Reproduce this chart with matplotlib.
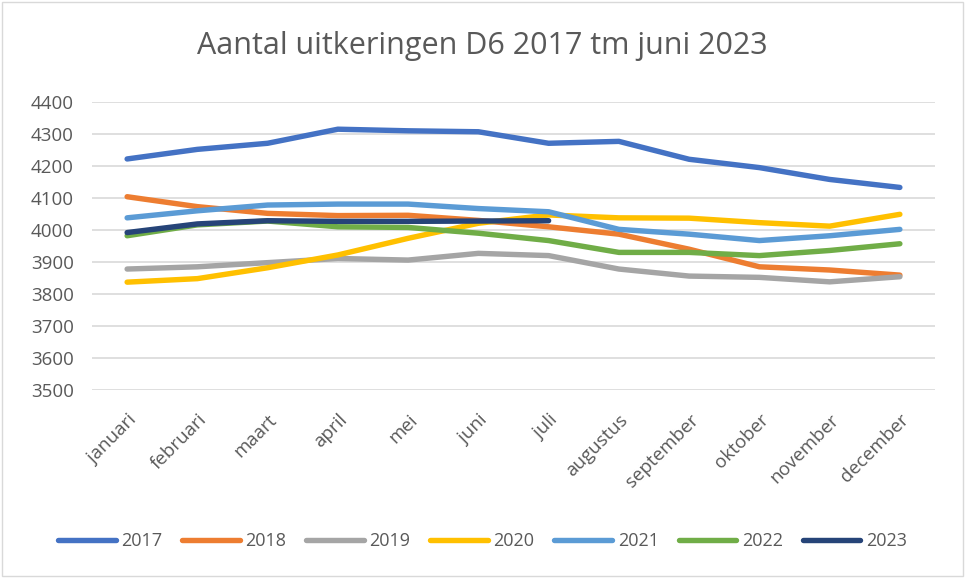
import matplotlib.pyplot as plt
from matplotlib.patches import Rectangle

# Maanden en jaarreeksen
maanden = ["januari", "februari", "maart", "april", "mei", "juni", "juli",
           "augustus", "september", "oktober", "november", "december"]

v2017 = [4222, 4252, 4271, 4315, 4310, 4307, 4271, 4277, 4221, 4195, 4158, 4133]
v2018 = [4104, 4073, 4052, 4045, 4046, 4030, 4010, 3987, 3940, 3885, 3875, 3859]
v2019 = [3878, 3885, 3898, 3911, 3906, 3927, 3920, 3878, 3856, 3852, 3838, 3854]
v2020 = [3837, 3848, 3882, 3922, 3974, 4021, 4047, 4038, 4037, 4023, 4012, 4049]
v2021 = [4038, 4060, 4078, 4081, 4081, 4067, 4057, 4002, 3987, 3967, 3982, 4002]
v2022 = [3982, 4016, 4028, 4010, 4008, 3990, 3967, 3930, 3930, 3920, 3936, 3957]
v2023 = [3992, 4019, 4029, 4027, 4027, 4028, 4029]

jaren = ["2017", "2018", "2019", "2020", "2021", "2022", "2023"]
reeksen = [v2017, v2018, v2019, v2020, v2021, v2022, v2023]
kleuren = ["#4472C4", "#ED7D31", "#A5A5A5", "#FFC000", "#5B9BD5", "#70AD47", "#264478"]

plt.rcParams['font.family'] = ['Open Sans', 'DejaVu Sans']

fig = plt.figure(figsize=(9.65, 5.78), dpi=100)
ax = fig.add_axes([92 / 965, 1 - 390 / 578, 843 / 965, 288 / 578])

for jaar, waarden, kleur in zip(jaren, reeksen, kleuren):
    ax.plot(range(len(waarden)), waarden, color=kleur, linewidth=3.9,
            solid_capstyle="round", solid_joinstyle="round", label=jaar)

ax.set_xlim(-0.5, 11.5)
ax.set_ylim(3500, 4400)
ax.set_yticks(range(3500, 4401, 100))
ax.set_xticks(range(len(maanden)))
ax.set_xticklabels(maanden, rotation=45, ha="right", rotation_mode="anchor")
ax.yaxis.grid(True, color="#D9D9D9", linewidth=1.2)
ax.set_axisbelow(True)
for s in ax.spines.values():
    s.set_visible(False)
ax.tick_params(axis="both", length=0, labelsize=13.5, labelcolor="#595959")
ax.tick_params(axis="y", pad=13)
ax.tick_params(axis="x", pad=15)

fig.text(482 / 965, 1 - 46 / 578, "Aantal uitkeringen D6 2017 tm juni 2023",
         ha="center", va="center", fontsize=22, color="#595959")

fig.legend(loc="center", bbox_to_anchor=(0.5, 1 - 541 / 578), ncol=7,
           frameon=False, fontsize=13, labelcolor="#595959",
           handlelength=3.2, handletextpad=0.3, columnspacing=1.1)

fig.patches.append(Rectangle((0.002, 0.003), 0.996, 0.994, transform=fig.transFigure,
                             fill=False, edgecolor="#D9D9D9", linewidth=1))

fig.savefig("out.png", dpi=100)
